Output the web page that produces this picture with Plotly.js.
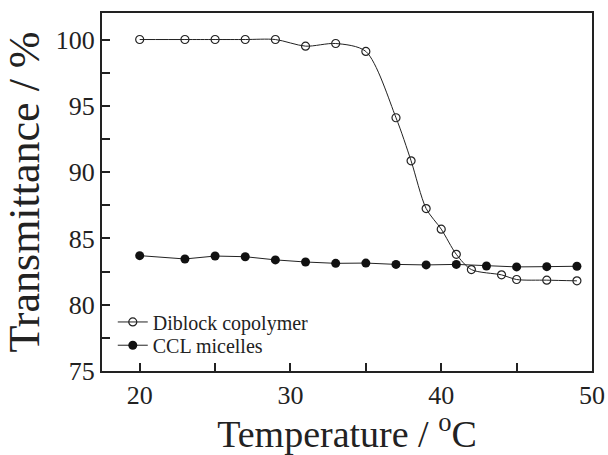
<!DOCTYPE html>
<html>
<head>
<meta charset="utf-8">
<script src="https://cdn.plot.ly/plotly-3.0.1.min.js"></script>
<style>html,body{margin:0;padding:0;background:#fff;}#chart{width:608px;height:455px;}</style>
</head>
<body>
<div id="chart"></div>
<script>
const diblockTemp = [20, 23, 25, 27, 29, 31, 33, 35, 37, 38, 39, 40, 41, 42, 44, 45, 47, 49];
const diblockTrans = [100, 100, 100, 100, 100, 99.5, 99.7, 99.1, 94.1, 90.85, 87.25, 85.7, 83.8, 82.65, 82.25, 81.9, 81.85, 81.8];
const cclTemp = [20, 23, 25, 27, 29, 31, 33, 35, 37, 39, 41, 43, 45, 47, 49];
const cclTrans = [83.7, 83.45, 83.67, 83.62, 83.38, 83.22, 83.12, 83.14, 83.04, 83.0, 83.04, 82.92, 82.85, 82.87, 82.9];
const seriesNames = ["Diblock copolymer", "CCL micelles"];
const xTickVals = [20, 25, 30, 35, 40, 45, 50];
const xTickText = ["20", "", "30", "", "40", "", "50"];
const yTickVals = [75, 77.5, 80, 82.5, 85, 87.5, 90, 92.5, 95, 97.5, 100];
const yTickText = ["75", "", "80", "", "85", "", "90", "", "95", "", "100"];
const xTitle = "Temperature / <sup>o</sup>C";
const yTitle = "Transmittance / %";

const serif = "Liberation Serif";
const ink = "#222";
const traces = [
  {
    x: diblockTemp, y: diblockTrans, name: seriesNames[0], type: "scatter", mode: "lines+markers",
    legend: "legend",
    line: {color: ink, width: 1, shape: "spline", smoothing: 0.8},
    marker: {symbol: "circle-open", size: 8, color: ink, line: {width: 1.2, color: ink}}
  },
  {
    x: cclTemp, y: cclTrans, name: seriesNames[1], type: "scatter", mode: "lines+markers",
    legend: "legend2",
    line: {color: ink, width: 1},
    marker: {symbol: "circle", size: 9, color: "#111"}
  }
];
const legendBase = {x: 0.022, xanchor: "left", yanchor: "middle", bgcolor: "rgba(0,0,0,0)",
  font: {family: serif, size: 20, color: ink}, itemwidth: 30};
const layout = {
  width: 608, height: 455,
  margin: {l: 102, r: 16, t: 13, b: 84},
  paper_bgcolor: "#fff", plot_bgcolor: "#fff",
  font: {family: serif, color: ink},
  showlegend: true,
  legend: Object.assign({}, legendBase, {y: 0.137}),
  legend2: Object.assign({}, legendBase, {y: 0.072}),
  xaxis: {
    range: [17.5, 50], tickmode: "array", tickvals: xTickVals, ticktext: xTickText,
    ticks: "inside", ticklen: 8, tickwidth: 1.8, tickcolor: ink,
    showline: true, linewidth: 2, linecolor: ink, mirror: true,
    showgrid: false, zeroline: false,
    tickfont: {family: serif, size: 26, color: ink},
    title: {text: xTitle, font: {family: serif, size: 38, color: ink}, standoff: 8}
  },
  yaxis: {
    range: [75, 102], tickmode: "array", tickvals: yTickVals, ticktext: yTickText,
    ticks: "inside", ticklen: 8, tickwidth: 1.8, tickcolor: ink,
    showline: true, linewidth: 2, linecolor: ink, mirror: true,
    showgrid: false, zeroline: false,
    tickfont: {family: serif, size: 26, color: ink},
    title: {text: yTitle, font: {family: serif, size: 44, color: ink}, standoff: 4}
  }
};
Plotly.newPlot("chart", traces, layout, {displayModeBar: false});
</script>
</body>
</html>
